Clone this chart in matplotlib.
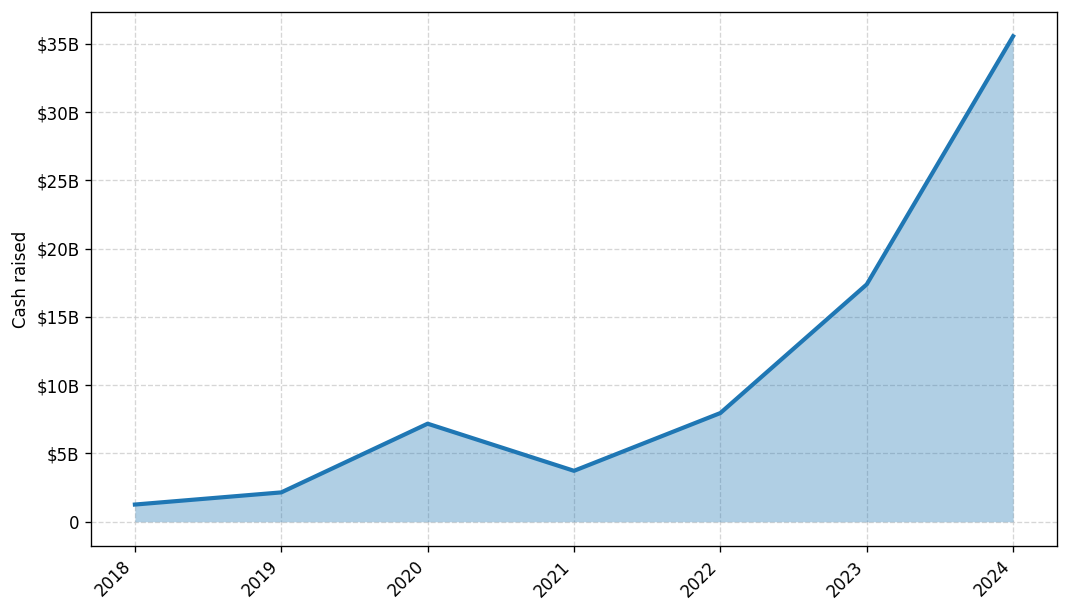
import matplotlib
matplotlib.use("Agg")
import matplotlib.pyplot as plt
from matplotlib.ticker import FuncFormatter

years = [2018, 2019, 2020, 2021, 2022, 2023, 2024]
cash_raised = [1.26e9, 2.15e9, 7.18e9, 3.73e9, 7.96e9, 17.38e9, 35.55e9]

def fmt(v, pos):
    if v == 0:
        return '0'
    return '${:.0f}B'.format(v / 1e9)

fig, ax = plt.subplots(figsize=(8.9, 5.1), dpi=120)
ax.fill_between(years, cash_raised, color='C0', alpha=0.35, linewidth=0)
ax.plot(years, cash_raised, color='C0', linewidth=2.5)

ax.set_xticks(years)
ax.set_xticklabels([str(y) for y in years], rotation=45, ha='right')
ax.yaxis.set_major_formatter(FuncFormatter(fmt))
ax.set_ylabel('Cash raised')
ax.grid(True, linestyle='--', color='#cccccc', alpha=0.8)
ax.set_axisbelow(True)

plt.subplots_adjust(left=0.0852, right=0.9897, top=0.9804, bottom=0.1078)
plt.savefig('out.png')
